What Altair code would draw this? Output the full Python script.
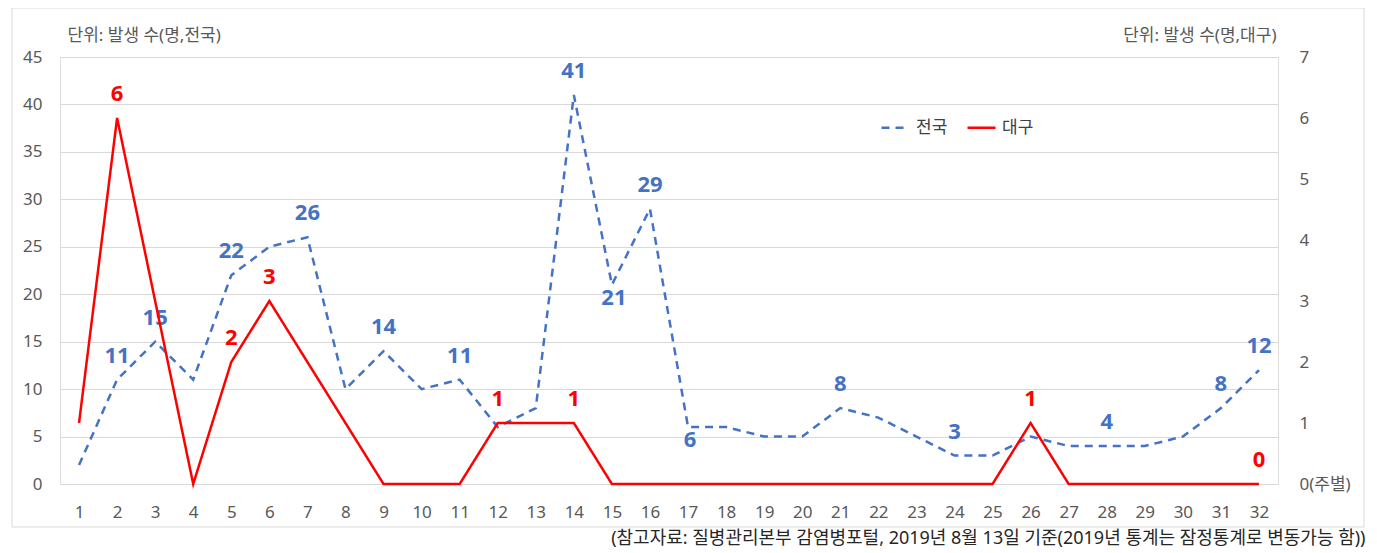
import altair as alt
import pandas as pd

weeks = list(range(1, 33))
national = [2, 11, 15, 11, 22, 25, 26, 10, 14, 10, 11, 6, 8, 41, 21, 29,
            6, 6, 5, 5, 8, 7, 5, 3, 3, 5, 4, 4, 4, 5, 8, 12]
daegu = [1, 6, 3, 0, 2, 3, 2, 1, 0, 0, 0, 1, 1, 1, 0, 0,
         0, 0, 0, 0, 0, 0, 0, 0, 0, 1, 0, 0, 0, 0, 0, 0]
national_label_above = [2, 3, 5, 7, 9, 11, 14, 16, 21, 24, 28, 31, 32]
national_label_below = [15, 17]
daegu_label_weeks = [2, 5, 6, 12, 14, 26, 32]

series_names = ["전국", "대구"]
series_colors = ["#4472C4", "#FF0000"]

left_title = "단위: 발생 수(명,전국)"
right_title = "단위: 발생 수(명,대구)"
note = "(참고자료: 질병관리본부 감염병포털, 2019년 8월 13일 기준(2019년 통계는 잠정통계로 변동가능 함))"

FONT = "Noto Sans, Noto Sans CJK KR"

nat_df = pd.DataFrame({"week": weeks, "value": national, "series": "전국"})
nat_df["pos"] = ["above" if w in national_label_above else ("below" if w in national_label_below else "none") for w in weeks]
dg_df = pd.DataFrame({"week": weeks, "value": daegu, "series": "대구"})
dg_df["pos"] = ["above" if w in daegu_label_weeks else "none" for w in weeks]

x_enc = alt.X("week:O", title=note,
              axis=alt.Axis(labelAngle=0, labelFontSize=17, labelColor="#595959", labelFont=FONT,
                            ticks=False, domain=False, labelPadding=20,
                            titleFont=FONT, titleFontSize=18, titleFontWeight="normal", titleColor="#262626",
                            titleAlign="right", titleAnchor="end", titleX=1305, titleY=54,
                            titleBaseline="middle"))

color_enc = alt.Color("series:N", scale=alt.Scale(domain=series_names, range=series_colors),
                      legend=alt.Legend(orient="none", legendX=820, legendY=55, direction="horizontal",
                                        title=None, symbolType="stroke", symbolSize=784,
                                        symbolStrokeWidth=2.5, labelFontSize=17, labelFont=FONT,
                                        labelFontWeight="normal", labelColor="#404040",
                                        columnPadding=14, labelOffset=5))
dash_enc = alt.StrokeDash("series:N", scale=alt.Scale(domain=series_names, range=[[8, 6], [1, 0]]),
                          legend=None)

y_left = alt.Y("value:Q", title=left_title,
               scale=alt.Scale(domain=[0, 45], nice=False),
               axis=alt.Axis(values=list(range(0, 46, 5)), labelFontSize=17, labelColor="#595959",
                             labelFont=FONT, ticks=False, domain=False, labelPadding=18,
                             grid=True, gridColor="#D9D9D9", gridWidth=1,
                             titleAngle=0, titleAlign="left", titleBaseline="middle",
                             titleX=7, titleY=-22, titleFont=FONT, titleFontSize=17,
                             titleFontWeight="normal", titleColor="#595959"))
y_right = alt.Y("value:Q", title=right_title,
                scale=alt.Scale(domain=[0, 7], nice=False),
                axis=alt.Axis(orient="right", values=list(range(0, 8)), format="d", labelFontSize=17,
                              labelColor="#595959", labelFont=FONT, ticks=False, domain=False,
                              labelPadding=21, grid=False,
                              labelExpr="datum.value == 0 ? '0(주별)' : datum.label",
                              titleAngle=0, titleAlign="right", titleBaseline="middle",
                              titleX=-2, titleY=-22, titleFont=FONT, titleFontSize=17,
                              titleFontWeight="normal", titleColor="#595959"))

nat_base = alt.Chart(nat_df)
nat_line = nat_base.mark_line(strokeWidth=2.5).encode(x=x_enc, y=y_left, color=color_enc, strokeDash=dash_enc)
nat_above = nat_base.mark_text(fontSize=22, fontWeight="bold", font=FONT, dy=-24, color="#4472C4").encode(
    x="week:O", y=alt.Y("value:Q"), text="value:Q").transform_filter("datum.pos == 'above'")
nat_below = nat_base.mark_text(fontSize=22, fontWeight="bold", font=FONT, dy=13, dx=2, color="#4472C4").encode(
    x="week:O", y=alt.Y("value:Q"), text="value:Q").transform_filter("datum.pos == 'below'")
left_layer = alt.layer(nat_line, nat_above, nat_below)

dg_base = alt.Chart(dg_df)
dg_line = dg_base.mark_line(strokeWidth=2.5).encode(x="week:O", y=y_right, color=color_enc, strokeDash=dash_enc)
dg_text = dg_base.mark_text(fontSize=22, fontWeight="bold", font=FONT, dy=-24, color="#FF0000").encode(
    x="week:O", y=alt.Y("value:Q"), text="value:Q").transform_filter("datum.pos == 'above'")
right_layer = alt.layer(dg_line, dg_text)

frame = alt.Chart(alt.Data(values=[{"a": 1}])).mark_rect(filled=False, stroke="#D9D9D9", strokeWidth=1).encode(
    x=alt.value(-48), x2=alt.value(1304), y=alt.value(-49), y2=alt.value(470))

chart = alt.layer(frame, left_layer, right_layer).resolve_scale(y="independent").properties(
    width=1218, height=427,
    padding={"left": 52, "top": 49, "right": 88, "bottom": 66},
    autosize=alt.AutoSizeParams(type="none"),
).configure_view(stroke=None).configure(background="white")

chart.save("out.html", embed_options={"renderer": "svg", "actions": False})
